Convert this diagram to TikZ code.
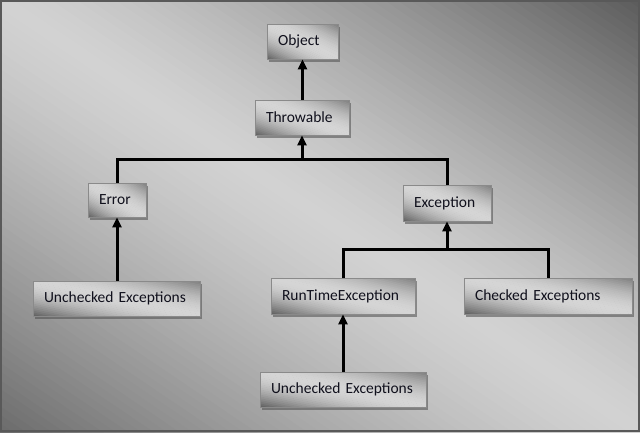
\documentclass[tikz,border=0pt]{standalone}
\usepackage{fontspec}
\setmainfont{Carlito}
\usetikzlibrary{arrows.meta}
\pgfdeclarelayer{bg}
\pgfsetlayers{bg,main}
\definecolor{txt}{HTML}{10101C}
\definecolor{bord}{HTML}{8A8A8A}
\tikzset{
  box/.style={draw=bord, line width=0.8pt, inner xsep=11pt, inner ysep=0pt,
    align=left, text=txt, font=\fontsize{15.5}{18}\selectfont},
  link/.style={line width=3pt, black},
  arr/.style={link, -{Triangle[width=9pt,length=10pt]}}
}
% diagonal strip gradient in the unit square (u right, v down):
% #1 steps, #2 grey at top-right, #3 grey in the middle, #4 grey at bottom-left, #5 power
\newcommand\diaggrad[5]{%
  \foreach \i in {1,...,#1}{%
    \pgfmathsetmacro\ta{(\i-1)/#1}%
    \pgfmathsetmacro\tb{\i/#1+0.006}%
    \pgfmathsetmacro\tm{(\i-0.5)/#1}%
    \pgfmathsetmacro\da{2*\ta-1}%
    \pgfmathsetmacro\db{2*\tb-1}%
    \pgfmathsetmacro\ee{abs(2*\tm-1)^#5}%
    \pgfmathtruncatemacro\g{\tm<0.5 ? #3-(#3-#2)*\ee : #3-(#3-#4)*\ee}%
    \fill[color={rgb,255:red,\g;green,\g;blue,\g}]
      (-1,-1+\da) -- (2,2+\da) -- (2,2+\db) -- (-1,-1+\db) -- cycle;
  }}
% a box: name, x1, y1, x2, y2 (pixels), text
\newcommand\gbox[6]{%
  \pgfmathsetmacro\bw{#4-#2}%
  \pgfmathsetmacro\bh{#5-#3}%
  \pgfmathsetmacro\tw{#4-#2-22}%
  \node[box, minimum width=\bw pt, minimum height=\bh pt, text width=\tw pt]
    (#1) at ({(#2+#4)/2},{(#3+#5)/2}) {#6};
  \begin{pgfonlayer}{bg}
    \fill[black!70, opacity=0.55] (#2+1.5,#3+2.5) rectangle (#4+1.5,#5+2.5);
    \begin{scope}[shift={(#2,#3)}, x=\bw pt, y=-\bh pt]
      \clip (0,0) rectangle (1,1);
      \diaggrad{40}{125}{214}{96}{1.8}
    \end{scope}
  \end{pgfonlayer}}
\begin{document}
\begin{tikzpicture}[x=1pt,y=-1pt]
\useasboundingbox (0,0) rectangle (640,432);
\begin{pgfonlayer}{bg}
  \begin{scope}[x=640pt, y=-432pt]
    \clip (0,0) rectangle (1,1);
    \diaggrad{100}{92}{211}{108}{1.3}
  \end{scope}
\end{pgfonlayer}
\draw[black!65, line width=1.6pt] (0.8,0.8) rectangle (639.2,431.2);

\gbox{obj}{267}{24}{338}{59}{Object}
\gbox{thr}{255}{100}{349}{135}{Throwable}
\gbox{err}{88}{183}{146}{217}{Error}
\gbox{exc}{403}{185}{491}{221}{Exception}
\gbox{unc1}{33}{281}{200}{316}{Unchecked Exceptions}
\gbox{rte}{271}{278}{415}{314}{RunTimeException}
\gbox{chk}{464}{278}{632}{314}{Checked Exceptions}
\gbox{unc2}{260}{372}{426}{407}{Unchecked Exceptions}

\coordinate (j1) at (302,159);
\coordinate (j2) at (447,249);

\draw[arr] (thr.north -| obj.south) -- (obj.south);
\draw[link] (err.north) |- (j1) -| (exc.north);
\draw[arr] (j1) -- (thr.south);
\draw[link] (rte.north) |- (j2) -| (chk.north);
\draw[arr] (j2) -- (exc.south);
\draw[arr] (unc1.north -| err.south) -- (err.south);
\draw[arr] (unc2.north) -- (rte.south);
\end{tikzpicture}
\end{document}
